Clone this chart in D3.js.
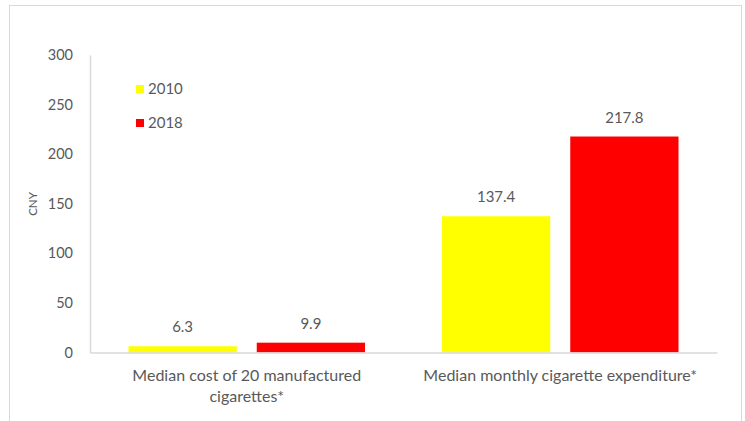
<!DOCTYPE html>
<html><head><meta charset="utf-8">
<script src="https://cdn.jsdelivr.net/npm/d3@7"></script>
<style>body{margin:0;background:#fff}svg{display:block}text{font-family:Lato,"Liberation Sans",sans-serif;fill:#595959}</style>
</head><body><svg id="c" width="745" height="421"></svg>
<script>
const categories = [["Median cost of 20 manufactured","cigarettes*"],["Median monthly cigarette expenditure*"]];
const categoryKeys = ["cost","monthly"];
const seriesNames = ["2010","2018"];
const seriesColors = ["#ffff00","#ff0000"];
const values2010 = [6.3, 137.4];
const values2018 = [9.9, 217.8];
const yTicks = [0,50,100,150,200,250,300];
const yLabel = "CNY";

const svg = d3.select("#c");
svg.append("rect").attr("x",9.5).attr("y",5.5).attr("width",732).attr("height",430)
  .attr("fill","none").attr("stroke","#d9d9d9");

const x0 = d3.scaleBand().domain(categoryKeys).range([90,717]).padding(0);
const x1 = d3.scaleBand().domain(seriesNames).range([0,x0.bandwidth()]).paddingInner(0.156).paddingOuter(0.3);
const y = d3.scaleLinear().domain([0,300]).range([352.5,55]);

const series = [values2010, values2018];

// y axis
const yAxis = svg.append("g").attr("transform","translate(90,0)")
  .call(d3.axisLeft(y).tickValues(yTicks).tickSize(0).tickPadding(17));
yAxis.select(".domain").attr("stroke","#d9d9d9").attr("stroke-width",1.5);
yAxis.selectAll("text").attr("font-size",14.5).style("font-family","Lato,'Liberation Sans',sans-serif").attr("fill","#595959");

// bars
seriesNames.forEach((s,si)=>{
  const g = svg.append("g");
  g.selectAll("rect").data(series[si]).join("rect")
    .attr("x",(d,i)=>x0(categoryKeys[i])+x1(s))
    .attr("y",d=>y(d))
    .attr("width",x1.bandwidth())
    .attr("height",d=>y(0)-y(d))
    .attr("fill",seriesColors[si]);
  g.selectAll("text").data(series[si]).join("text")
    .attr("x",(d,i)=>x0(categoryKeys[i])+x1(s)+x1.bandwidth()/2)
    .attr("y",d=>y(d)-14)
    .attr("text-anchor","middle").attr("font-size",15)
    .text(d=>d.toFixed(1));
});

// x axis
const xAxis = svg.append("g").attr("transform","translate(0,352.5)")
  .call(d3.axisBottom(x0).tickSize(0).tickFormat(""));
xAxis.select(".domain").attr("stroke","#d9d9d9").attr("stroke-width",1.5);
categoryKeys.forEach((k,i)=>{
  const t = svg.append("text").attr("x",x0(k)+x0.bandwidth()/2).attr("y",381)
    .attr("text-anchor","middle").attr("font-size",16);
  categories[i].forEach((line,j)=>{
    t.append("tspan").attr("x",x0(k)+x0.bandwidth()/2).attr("dy",j===0?0:21).text(line);
  });
});

// y label
svg.append("text").attr("transform","translate(37,204) rotate(-90)")
  .attr("text-anchor","middle").attr("font-size",11.5).text(yLabel);

// legend
seriesNames.forEach((s,i)=>{
  const yy = 89 + i*34;
  svg.append("rect").attr("x",136).attr("y",yy-4).attr("width",8).attr("height",8).attr("fill",seriesColors[i]);
  svg.append("text").attr("x",148).attr("y",yy+5).attr("font-size",15).text(s);
});
</script></body></html>
